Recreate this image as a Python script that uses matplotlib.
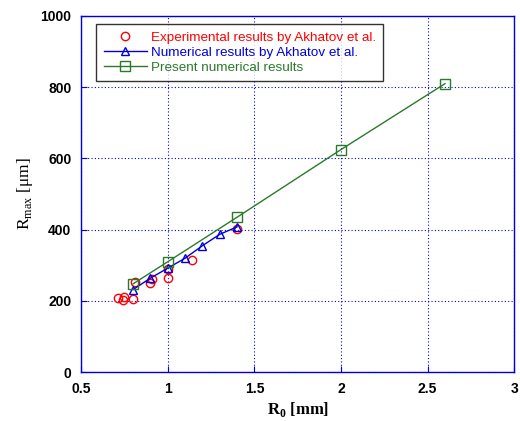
import matplotlib.pyplot as plt

# Experimental results (Akhatov et al.)
exp_r0 = [0.71, 0.74, 0.75, 0.80, 0.81, 0.90, 0.91, 1.00, 1.00, 1.14, 1.40]
exp_rmax = [207, 204, 211, 205, 254, 250, 262, 265, 291, 315, 402]

# Numerical results (Akhatov et al.)
num_r0 = [0.80, 0.90, 1.00, 1.10, 1.20, 1.30, 1.40]
num_rmax = [232, 264, 292, 320, 355, 387, 408]

# Present numerical results
pres_r0 = [0.8, 1.0, 1.4, 2.0, 2.6]
pres_rmax = [248, 310, 435, 625, 810]

xticks = [0.5, 1, 1.5, 2, 2.5, 3]
xtick_labels = ["0.5", "1", "1.5", "2", "2.5", "3"]
yticks = [0, 200, 400, 600, 800, 1000]

blue = "#0000dd"
green = "#2a7a2a"
fig = plt.figure(figsize=(5.2, 4.21), dpi=100)
ax = fig.add_axes([0.156, 0.116, 0.833, 0.846])

ax.plot(exp_r0, exp_rmax, "o", ms=6, mfc="none", mec="red", mew=1.0,
        linestyle="none", label="Experimental results by Akhatov et al.", zorder=3)
ax.plot(num_r0, num_rmax, "-^", color=blue, lw=1.0, ms=6, mfc="none", mec=blue,
        mew=1.0, label="Numerical results by Akhatov et al.", zorder=4)
ax.plot(pres_r0, pres_rmax, "-s", color=green, lw=1.0, ms=7, mfc="none",
        mec=green, mew=1.0, label="Present numerical results", zorder=5)

ax.set_xlim(0.5, 3)
ax.set_ylim(0, 1000)
ax.set_xticks(xticks)
ax.set_xticklabels(xtick_labels)
ax.set_yticks(yticks)
ax.grid(True, color=blue, linestyle=(0, (1, 2)), lw=0.8)
for s in ax.spines.values():
    s.set_color(blue)
    s.set_linewidth(1.0)
ax.tick_params(direction="in", color=blue, length=4, pad=7, labelsize=10)
for lab in ax.get_xticklabels() + ax.get_yticklabels():
    lab.set_fontweight("bold")
    lab.set_family("Liberation Sans")

ax.set_xlabel(r"R$_\mathregular{0}$ [mm]", family="Liberation Serif", fontsize=12,
              fontweight="bold", labelpad=3)
ax.set_ylabel(r"R$_\mathregular{max}$ [μm]", family="Liberation Serif", fontsize=12.5,
              labelpad=4)

leg = ax.legend(loc="upper left", bbox_to_anchor=(0.035, 0.978), frameon=True,
                fancybox=False, edgecolor="black", handlelength=3.2,
                borderpad=0.55, labelspacing=0.2, handletextpad=0.3,
                borderaxespad=0, prop={"family": "Liberation Sans", "size": 9.7})
leg.get_frame().set_linewidth(1.0)
for txt, col in zip(leg.get_texts(), ["red", blue, green]):
    txt.set_color(col)

fig.savefig("out.png", dpi=100)
